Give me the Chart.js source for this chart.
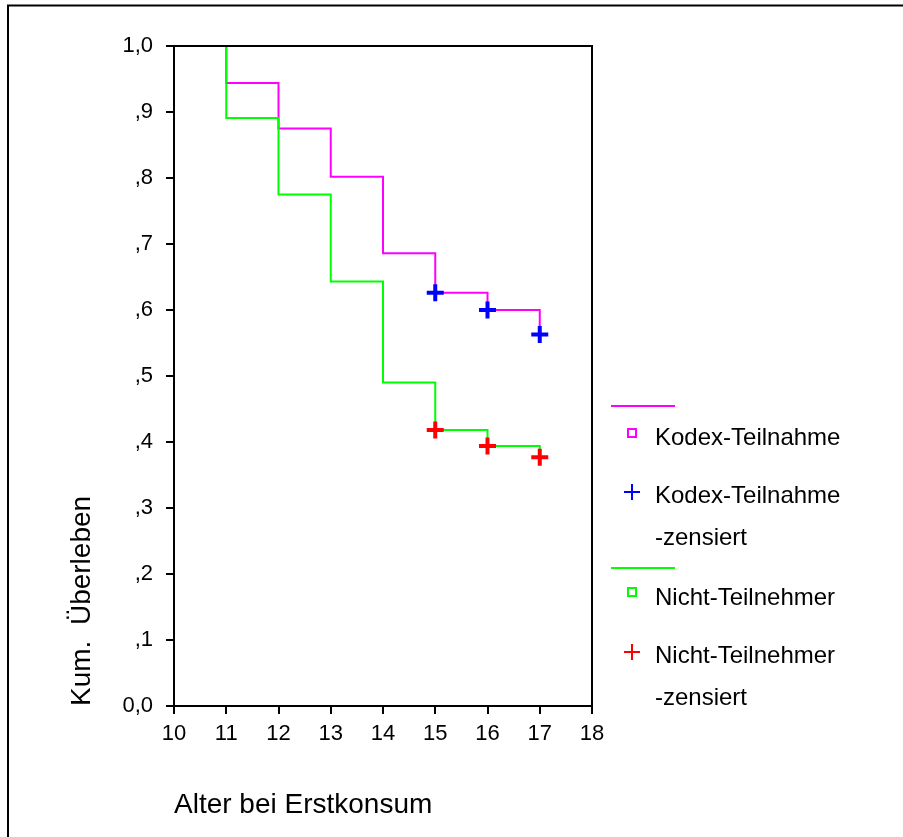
<!DOCTYPE html>
<html>
<head>
<meta charset="utf-8">
<script src="https://cdn.jsdelivr.net/npm/chart.js@4"></script>
<style>
  body { margin: 0; background: #fff; }
</style>
</head>
<body>
<canvas id="myChart" width="903" height="837"></canvas>
<script>
// Kaplan-Meier survival values
var ages = [11, 12, 13, 14, 15, 16, 17];
var kodexSurv = [0.944, 0.875, 0.802, 0.686, 0.626, 0.600, 0.563];
var nichtSurv = [0.891, 0.775, 0.643, 0.490, 0.418, 0.394, 0.377];

// censored cases
var censAges = [15, 16, 17];
var kodexCens = [0.626, 0.600, 0.563];
var nichtCens = [0.418, 0.394, 0.377];

var yTickLabels = ['0,0', ',1', ',2', ',3', ',4', ',5', ',6', ',7', ',8', ',9', '1,0'];
var xTitle = 'Alter bei Erstkonsum';
var yTitle = 'Kum.  Überleben';

var FONT = "'Liberation Sans', Arial, sans-serif";

function stepPoints(surv) {
  var pts = [{x: ages[0], y: 1.0}];
  for (var i = 0; i < ages.length; i++) {
    pts.push({x: ages[i], y: surv[i]});
  }
  return pts;
}

function censPoints(vals) {
  var pts = [];
  for (var i = 0; i < censAges.length; i++) {
    pts.push({x: censAges[i], y: vals[i]});
  }
  return pts;
}

var framePlugin = {
  id: 'frame',
  beforeDraw: function(chart) {
    var c = chart.ctx;
    c.save();
    c.fillStyle = '#fff';
    c.fillRect(0, 0, chart.width, chart.height);
    c.strokeStyle = '#000';
    c.lineWidth = 2;
    c.beginPath();
    c.moveTo(8, 837);
    c.lineTo(8, 5.5);
    c.lineTo(903, 5.5);
    c.stroke();
    c.restore();
  },
  afterDraw: function(chart) {
    var a = chart.chartArea;
    var c = chart.ctx;
    c.save();
    c.strokeStyle = '#000';
    c.lineWidth = 2;
    c.strokeRect(a.left, a.top, a.right - a.left, a.bottom - a.top);

    // legend
    c.font = '24px ' + FONT;
    c.textBaseline = 'middle';
    c.fillStyle = '#000';
    function line(col, y) {
      c.strokeStyle = col; c.lineWidth = 2;
      c.beginPath(); c.moveTo(611, y); c.lineTo(675, y); c.stroke();
    }
    function square(col, y) {
      c.strokeStyle = col; c.lineWidth = 2;
      c.strokeRect(628, y - 4, 8, 8);
    }
    function plus(col, y) {
      c.strokeStyle = col; c.lineWidth = 2;
      c.beginPath();
      c.moveTo(624, y); c.lineTo(640, y);
      c.moveTo(632, y - 8); c.lineTo(632, y + 8);
      c.stroke();
    }
    line('#ff00ff', 406);
    square('#ff00ff', 433);
    c.fillText('Kodex-Teilnahme', 655, 438);
    plus('#0000ff', 492);
    c.fillText('Kodex-Teilnahme', 655, 496);
    c.fillText('-zensiert', 655, 538);
    line('#00ff00', 568);
    square('#00ff00', 592);
    c.fillText('Nicht-Teilnehmer', 655, 598);
    plus('#ff0000', 652);
    c.fillText('Nicht-Teilnehmer', 655, 656);
    c.fillText('-zensiert', 655, 698);
    c.restore();
  }
};

var ctx = document.getElementById('myChart');
var myChart = new Chart(ctx, {
  type: 'scatter',
  data: {
    datasets: [{
      label: 'Kodex-Teilnahme -zensiert',
      data: censPoints(kodexCens),
      showLine: false,
      pointStyle: 'cross',
      pointRadius: 8.5,
      pointBorderWidth: 4,
      borderColor: '#0000ff',
      backgroundColor: '#0000ff'
    }, {
      label: 'Nicht-Teilnehmer -zensiert',
      data: censPoints(nichtCens),
      showLine: false,
      pointStyle: 'cross',
      pointRadius: 8.5,
      pointBorderWidth: 4,
      borderColor: '#ff0000',
      backgroundColor: '#ff0000'
    }, {
      label: 'Nicht-Teilnehmer',
      data: stepPoints(nichtSurv),
      showLine: true,
      stepped: 'before',
      borderColor: '#00ff00',
      borderWidth: 2,
      pointRadius: 0,
      fill: false
    }, {
      label: 'Kodex-Teilnahme',
      data: stepPoints(kodexSurv),
      showLine: true,
      stepped: 'before',
      borderColor: '#ff00ff',
      borderWidth: 2,
      pointRadius: 0,
      fill: false
    }]
  },
  options: {
    responsive: false,
    animation: false,
    layout: { padding: { left: 0, top: 46, right: 311, bottom: 0 } },
    plugins: {
      legend: { display: false },
      tooltip: { enabled: false }
    },
    scales: {
      x: {
        type: 'linear',
        min: 10,
        max: 18,
        afterFit: function(scale) { scale.height = 131; },
        ticks: { stepSize: 1, color: '#000', padding: 7, font: { family: FONT, size: 22 } },
        grid: { display: true, drawOnChartArea: false, drawTicks: true, tickLength: 8, color: '#000', lineWidth: 2 },
        border: { display: true, color: '#000', width: 2 },
        title: {
          display: true, text: xTitle, align: 'start', color: '#000',
          padding: { top: 0, bottom: 15 },
          font: { family: FONT, size: 28 }
        }
      },
      y: {
        type: 'linear',
        min: 0,
        max: 1,
        afterFit: function(scale) { scale.width = 174; },
        ticks: {
          stepSize: 0.1, color: '#000', padding: 13,
          font: { family: FONT, size: 22 },
          callback: function(v) { return yTickLabels[Math.round(v * 10)]; }
        },
        grid: { display: true, drawOnChartArea: false, drawTicks: true, tickLength: 8, color: '#000', lineWidth: 2 },
        border: { display: true, color: '#000', width: 2 },
        title: {
          display: true, text: yTitle, align: 'start', color: '#000',
          padding: { top: 65, bottom: 0 },
          font: { family: FONT, size: 28 }
        }
      }
    }
  },
  plugins: [framePlugin]
});
</script>
</body>
</html>
